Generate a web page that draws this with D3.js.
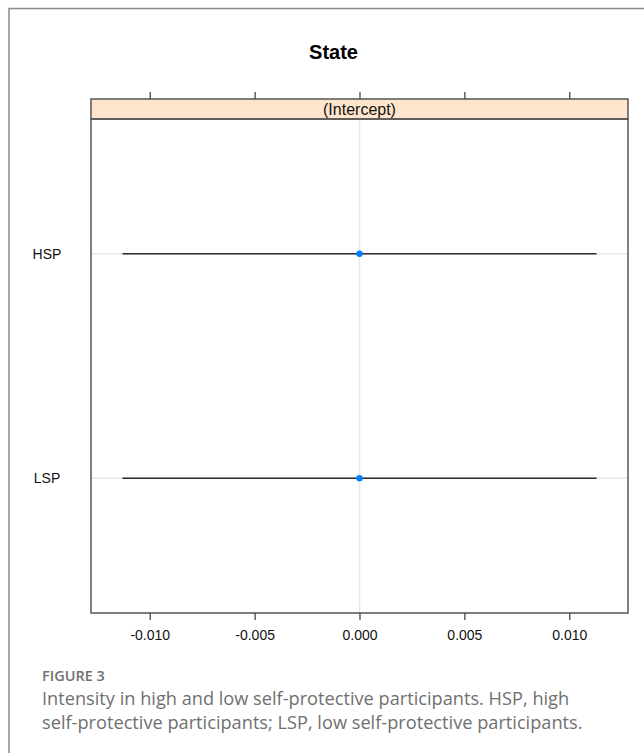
<!DOCTYPE html>
<html>
<head>
<meta charset="utf-8">
<script src="https://cdn.jsdelivr.net/npm/d3@7"></script>
<style>
  body { margin: 0; background: #fff; }
  svg text { font-family: "Liberation Sans", Arial, sans-serif; }
  .caption { font-family: "Open Sans", sans-serif; fill: #707070; }
</style>
</head>
<body>
<div id="chart"></div>
<script>
// values
var levels = ["HSP", "LSP"];
var levelPos = [2, 1];
var estimates = [0, 0];
var lower = [-0.0113, -0.0113];
var upper = [0.0113, 0.0113];
var xTicks = [-0.010, -0.005, 0.000, 0.005, 0.010];
var titleText = "State";
var stripText = "(Intercept)";
var captionLines = [
    "Intensity in high and low self-protective participants. HSP, high",
    "self-protective participants; LSP, low self-protective participants."
];

var W = 644, H = 753;
var panel = {left: 91, right: 628, top: 119, bottom: 613},
    strip = {top: 99, bottom: 119};

var svg = d3.select("#chart").append("svg")
        .attr("width", W)
        .attr("height", H);

// outer frame of the figure box
svg.append("path")
        .attr("d", "M9," + H + "V8.5H" + W)
        .attr("fill", "none")
        .attr("stroke", "#8a8a8a")
        .attr("stroke-width", 1.5);

var x = d3.scaleLinear()
        .domain([-0.0128, 0.0128])
        .range([panel.left, panel.right]);

var y = d3.scaleLinear()
        .domain([0.4, 2.6])
        .range([panel.bottom, panel.top]);

var rows = levels.map(function(d, i) {
    return {name: d, pos: levelPos[i], est: estimates[i], lo: lower[i], hi: upper[i]};
});

// title
svg.append("text")
        .attr("x", 333.5)
        .attr("y", 59)
        .attr("text-anchor", "middle")
        .style("font-size", "20px")
        .style("font-weight", "bold")
        .text(titleText);

// reference grid
svg.append("line")
        .attr("x1", x(0)).attr("x2", x(0))
        .attr("y1", panel.top).attr("y2", panel.bottom)
        .attr("stroke", "#e8e8e8")
        .attr("stroke-width", 1.5);

svg.selectAll("line.hgrid").data(rows).enter().append("line")
        .attr("class", "hgrid")
        .attr("x1", panel.left).attr("x2", panel.right)
        .attr("y1", function(d) { return y(d.pos); })
        .attr("y2", function(d) { return y(d.pos); })
        .attr("stroke", "#e8e8e8")
        .attr("stroke-width", 1.5);

// strip
svg.append("rect")
        .attr("x", panel.left)
        .attr("y", strip.top)
        .attr("width", panel.right - panel.left)
        .attr("height", strip.bottom - strip.top)
        .attr("fill", "#ffe5cc")
        .attr("stroke", "#555")
        .attr("stroke-width", 1.5);

svg.append("text")
        .attr("x", (panel.left + panel.right) / 2)
        .attr("y", 115)
        .attr("text-anchor", "middle")
        .style("font-size", "16px")
        .attr("fill", "#111")
        .text(stripText);

// intervals
svg.selectAll("line.ci").data(rows).enter().append("line")
        .attr("class", "ci")
        .attr("x1", function(d) { return x(d.lo); })
        .attr("x2", function(d) { return x(d.hi); })
        .attr("y1", function(d) { return y(d.pos); })
        .attr("y2", function(d) { return y(d.pos); })
        .attr("stroke", "#2b2b2b")
        .attr("stroke-width", 1.5);

svg.selectAll("circle.pt").data(rows).enter().append("circle")
        .attr("class", "pt")
        .attr("cx", function(d) { return x(d.est); })
        .attr("cy", function(d) { return y(d.pos); })
        .attr("r", 3.2)
        .attr("fill", "#0080ff");

// panel box
svg.append("rect")
        .attr("x", panel.left)
        .attr("y", panel.top)
        .attr("width", panel.right - panel.left)
        .attr("height", panel.bottom - panel.top)
        .attr("fill", "none")
        .attr("stroke", "#555")
        .attr("stroke-width", 1.5);

// axes
var xAxis = d3.axisBottom(x)
        .tickValues(xTicks)
        .tickSize(7)
        .tickPadding(10)
        .tickFormat(function(d) { return d.toFixed(3); });

var gx = svg.append("g")
        .attr("transform", "translate(0," + panel.bottom + ")")
        .call(xAxis);
gx.select(".domain").remove();
gx.selectAll("line").attr("stroke", "#444").attr("stroke-width", 1.3);
gx.selectAll("text").style("font-size", "14px").attr("fill", "#111");

var gxTop = svg.append("g")
        .attr("transform", "translate(0," + strip.top + ")")
        .call(d3.axisTop(x).tickValues(xTicks).tickSize(7).tickFormat(""));
gxTop.select(".domain").remove();
gxTop.selectAll("line").attr("stroke", "#444").attr("stroke-width", 1.3);

svg.selectAll("text.ylab").data(rows).enter().append("text")
        .attr("class", "ylab")
        .attr("x", 47)
        .attr("y", function(d) { return y(d.pos); })
        .attr("dy", "0.35em")
        .attr("text-anchor", "middle")
        .style("font-size", "14px")
        .attr("fill", "#111")
        .text(function(d) { return d.name; });

// caption
svg.append("text")
        .attr("class", "caption")
        .attr("x", 42)
        .attr("y", 681)
        .style("font-size", "14.5px")
        .style("font-weight", "600")
        .attr("fill", "#7a7a7a")
        .text("FIGURE 3");

svg.selectAll("text.capline").data(captionLines).enter().append("text")
        .attr("class", "caption capline")
        .attr("x", 42)
        .attr("y", function(d, i) { return 705 + i * 24; })
        .style("font-size", "18.2px")
        .text(function(d) { return d; });
</script>
</body>
</html>
